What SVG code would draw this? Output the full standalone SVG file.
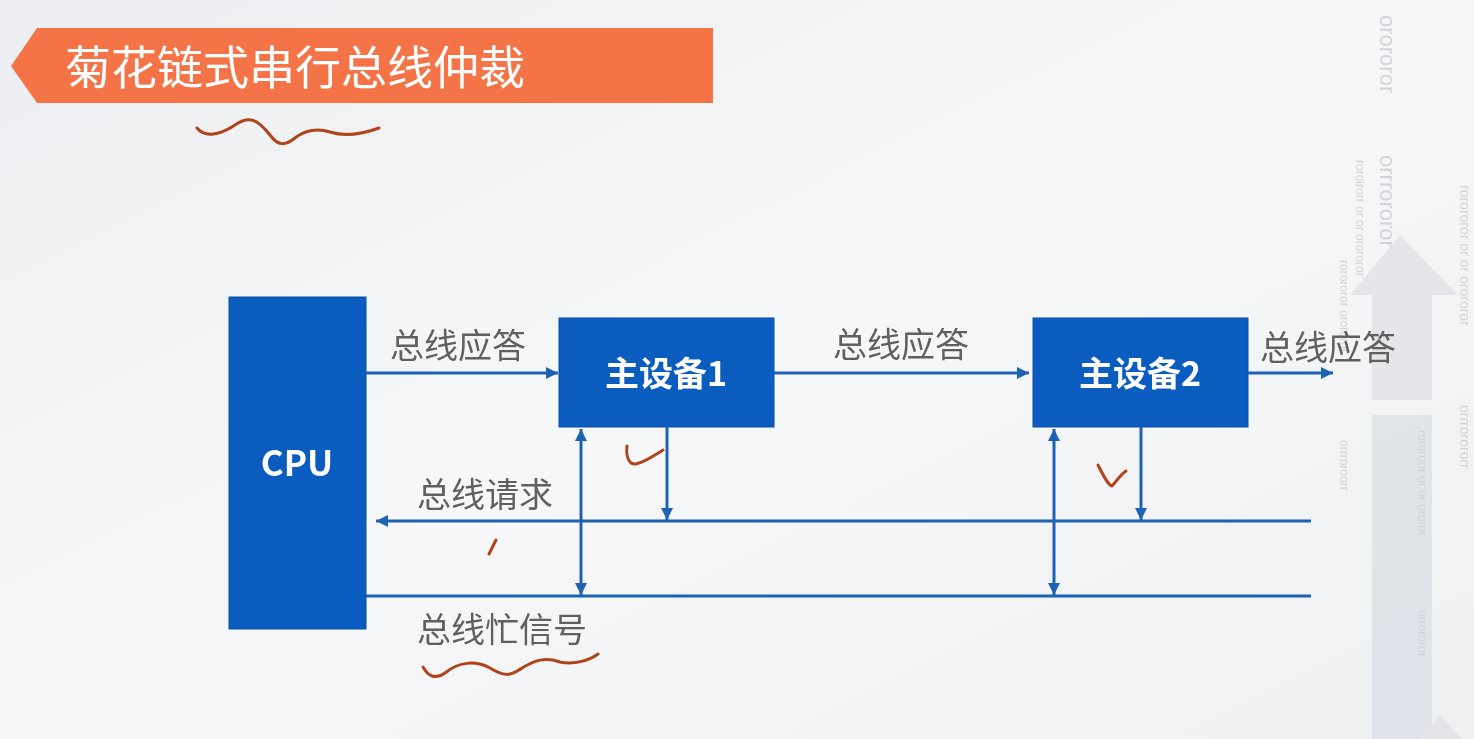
<svg xmlns="http://www.w3.org/2000/svg" width="1474" height="739" viewBox="0 0 1474 739">
<defs>
<linearGradient id="bg" x1="0" y1="0" x2="1" y2="1">
<stop offset="0" stop-color="#eceef1"/>
<stop offset="0.5" stop-color="#f6f7f8"/>
<stop offset="1" stop-color="#eef0f2"/>
</linearGradient>
<marker id="ah" viewBox="0 0 10 10" refX="10" refY="5" markerWidth="4.5" markerHeight="4" orient="auto-start-reverse" markerUnits="strokeWidth">
<path d="M0,0 L10,5 L0,10 z" fill="#1e63b3"/>
</marker>
<style>
.box{fill:#0b5cbf;stroke:#0a4fa6;stroke-width:1}
.bt{font-family:"Noto Sans CJK SC","Liberation Sans",sans-serif;font-weight:bold;fill:#fff;text-anchor:middle}
.lbl{font-family:"Noto Sans CJK SC",sans-serif;font-size:34px;fill:#606060}
.ln{stroke:#1e63b3;stroke-width:3;fill:none}
.ink{stroke:#b0441c;stroke-width:3;fill:none;stroke-linecap:round;stroke-linejoin:round}
.bin{font-family:"Liberation Sans",sans-serif;fill:#c9cdd3}
</style>
</defs>
<rect width="1474" height="739" fill="url(#bg)"/>
<g id="decor" opacity="0.8">
<path d="M1372,415 L1372,739 L1432,739 L1432,415 z" fill="#dde0e6"/>
<path d="M1350,295 L1400,235 L1458,295 L1432,295 L1432,400 L1372,400 L1372,295 z" fill="#e0e3e8"/>
<path d="M1420,739 L1440,715 L1462,739 z" fill="#e0e3e8"/>
<text class="bin" font-size="22" transform="translate(1380,15) rotate(90)">orororor</text>
<text class="bin" font-size="22" transform="translate(1380,155) rotate(90)">orrrororor</text>
<text class="bin" font-size="12" transform="translate(1356,160) rotate(90)">roroirorr or or orororor</text>
<text class="bin" font-size="12" transform="translate(1340,260) rotate(90)">rorororor orororor</text>
<text class="bin" font-size="12" transform="translate(1340,440) rotate(90)">orrroroorr</text>
<text class="bin" font-size="14" transform="translate(1460,185) rotate(90)">rorororor or or orororor</text>
<text class="bin" font-size="14" transform="translate(1460,405) rotate(90)">orrrorororr</text>
<text class="bin" font-size="12" transform="translate(1418,430) rotate(90)">rororoor or or ororor</text>
<text class="bin" font-size="12" transform="translate(1418,610) rotate(90)">orrororor</text>
</g>
<g id="title">
<path d="M37,28 L713,28 L713,103 L37,103 L11,66 z" fill="#f47448"/>
<text x="65" y="84" font-family="Noto Sans CJK SC,sans-serif" font-size="46" fill="#ffffff">菊花链式串行总线仲裁</text>
</g>
<g id="cpu">
<rect class="box" x="229" y="297" width="137" height="332"/>
<text class="bt" x="297" y="476" font-size="35">CPU</text>
</g>
<g id="master1">
<rect class="box" x="559" y="318" width="215" height="109"/>
<text class="bt" x="666" y="386" font-size="34">主设备1</text>
</g>
<g id="master2">
<rect class="box" x="1033" y="318" width="215" height="109"/>
<text class="bt" x="1140" y="386" font-size="34">主设备2</text>
</g>
<g id="connectors">
<line class="ln" x1="366" y1="373" x2="558" y2="373" marker-end="url(#ah)"/>
<line class="ln" x1="774" y1="373" x2="1029" y2="373" marker-end="url(#ah)"/>
<line class="ln" x1="1248" y1="373" x2="1333" y2="373" marker-end="url(#ah)"/>
<line class="ln" x1="1311" y1="521" x2="376" y2="521" marker-end="url(#ah)"/>
<line class="ln" x1="366" y1="596" x2="1311" y2="596"/>
<line class="ln" x1="581" y1="429" x2="581" y2="595" marker-start="url(#ah)" marker-end="url(#ah)"/>
<line class="ln" x1="667" y1="427" x2="667" y2="520" marker-end="url(#ah)"/>
<line class="ln" x1="1054" y1="429" x2="1054" y2="595" marker-start="url(#ah)" marker-end="url(#ah)"/>
<line class="ln" x1="1141" y1="427" x2="1141" y2="520" marker-end="url(#ah)"/>
<text class="lbl" x="390" y="358">总线应答</text>
<text class="lbl" x="833" y="357">总线应答</text>
<text class="lbl" x="1260" y="360">总线应答</text>
<text class="lbl" x="417" y="507">总线请求</text>
<text class="lbl" x="417" y="642">总线忙信号</text>
</g>
<g id="annotations">
<path class="ink" d="M197,128 C205,138 220,135 235,125 C250,115 258,120 270,135 C278,146 285,146 295,138 C305,130 318,128 330,132 C345,137 360,135 379,128"/>
<path class="ink" d="M627,446 C626,455 628,465 636,464 C645,462 655,455 663,450"/>
<path class="ink" d="M1098,465 C1103,475 1108,485 1112,486 C1116,482 1120,475 1126,471"/>
<path class="ink" d="M496,540 L489,554"/>
<path class="ink" d="M423,667 C428,676 435,680 445,673 C458,662 475,660 490,668 C503,676 510,677 522,668 C535,660 545,657 560,662 C575,665 590,660 598,654"/>
</g>
</svg>
